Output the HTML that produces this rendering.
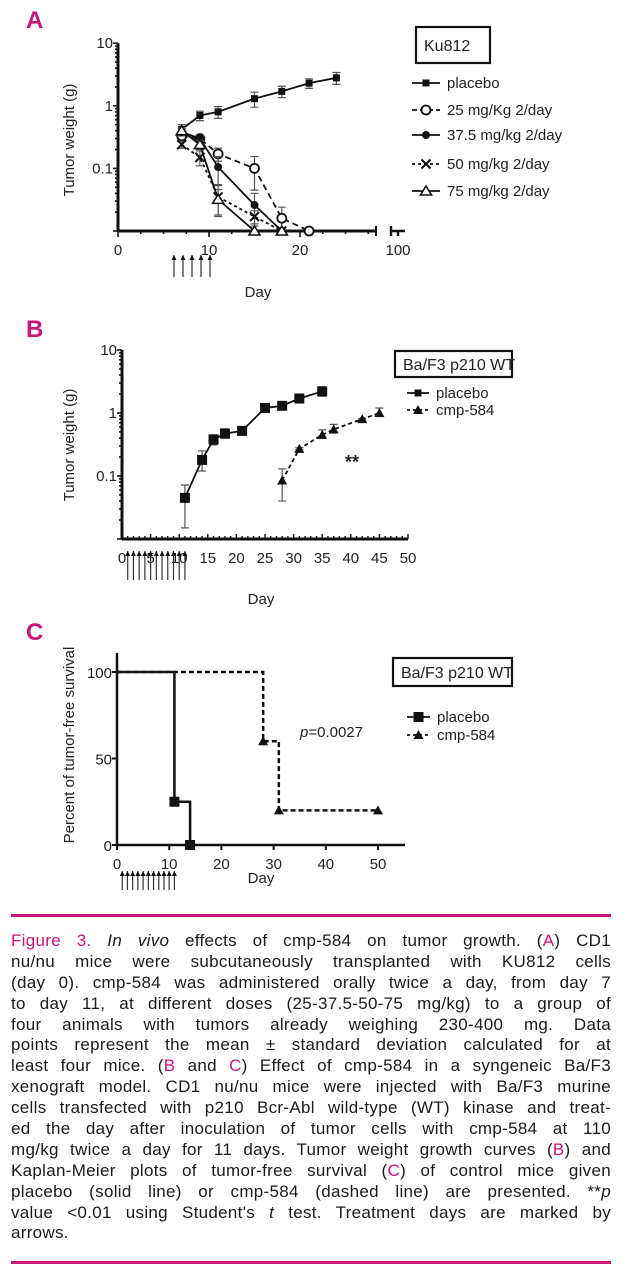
<!DOCTYPE html>
<html><head><meta charset="utf-8">
<style>
body{margin:0;background:#fff;width:632px;height:1280px;overflow:hidden;font-family:"Liberation Sans",sans-serif;}
#fig{position:absolute;left:0;top:0}
.cap{position:absolute;left:11px;width:600px;font-size:17px;letter-spacing:0.3px;color:#1a1a1a;}
.cap div{height:20.9px;line-height:20.9px;text-align:justify;text-align-last:justify;white-space:nowrap}
.cap div.last{text-align-last:left}
.pk{color:#c8157a}
</style></head><body>
<svg id="fig" width="632" height="900" xmlns="http://www.w3.org/2000/svg" font-family="Liberation Sans, sans-serif">
<g id="A"></g>
<g id="B"></g>
<g id="C"></g>
</svg>
<div style="position:absolute;left:11px;top:914px;width:600px;height:3px;background:#c8157a"></div>
<div class="cap" style="top:931px">
<div><span class="pk">Figure 3.</span> <i>In vivo</i> effects of cmp-584 on tumor growth. (<span class="pk">A</span>) CD1</div>
<div>nu/nu mice were subcutaneously transplanted with KU812 cells</div>
<div>(day 0). cmp-584 was administered orally twice a day, from day 7</div>
<div>to day 11, at different doses (25-37.5-50-75 mg/kg) to a group of</div>
<div>four animals with tumors already weighing 230-400 mg. Data</div>
<div>points represent the mean ± standard deviation calculated for at</div>
<div>least four mice. (<span class="pk">B</span> and <span class="pk">C</span>) Effect of cmp-584 in a syngeneic Ba/F3</div>
<div>xenograft model. CD1 nu/nu mice were injected with Ba/F3 murine</div>
<div>cells transfected with p210 Bcr-Abl wild-type (WT) kinase and treat-</div>
<div>ed the day after inoculation of tumor cells with cmp-584 at 110</div>
<div>mg/kg twice a day for 11 days. Tumor weight growth curves (<span class="pk">B</span>) and</div>
<div>Kaplan-Meier plots of tumor-free survival (<span class="pk">C</span>) of control mice given</div>
<div>placebo (solid line) or cmp-584 (dashed line) are presented. **<i>p</i></div>
<div>value &lt;0.01 using Student's <i>t</i> test. Treatment days are marked by</div>
<div class="last">arrows.</div>
</div>
<div style="position:absolute;left:11px;top:1261px;width:600px;height:3px;background:#c8157a"></div>
<script>
// Panel A data
const aDays=[7,9,11,15,18,21,24];
const aPlacebo=[0.42,0.7,0.8,1.3,1.7,2.3,2.8];
const aPlaceboErr=[0.08,0.12,0.17,0.35,0.35,0.4,0.6];
const a25Days=[7,9,11,15,18,21];
const a25=[0.33,0.3,0.17,0.1,0.016,0.01];
const a25Err=[0.04,0.03,0.04,0.055,0.008,0];
const a37Days=[7,9,11,15,18];
const a37=[0.38,0.3,0.105,0.026,0.01];
const a37Err=[0.05,0.03,0.05,0.014,0];
const a50Days=[7,9,11,15,18];
const a50=[0.24,0.15,0.035,0.017,0.01];
const a50Err=[0.03,0.04,0.018,0.004,0];
const a75Days=[7,9,11,15,18];
const a75=[0.4,0.24,0.032,0.01,0.01];
const a75Err=[0.05,0.04,0.014,0,0];
const aArrowDays=[7,8,9,10,11];
// Panel B data
const bPlaceboDays=[11,14,16,18,21,25,28,31,35];
const bPlacebo=[0.045,0.18,0.38,0.47,0.52,1.2,1.3,1.7,2.2];
const bPlaceboLo=[0.015,0.12,0.31,0.4,0.48,1.12,1.22,1.45,1.85];
const bPlaceboHi=[0.072,0.25,0.45,0.56,0.57,1.3,1.4,1.95,2.6];
const bCmpDays=[28,31,35,37,42,45];
const bCmp=[0.085,0.27,0.45,0.55,0.8,1.0];
const bCmpLo=[0.04,0.26,0.4,0.48,0.78,0.88];
const bCmpHi=[0.13,0.28,0.54,0.66,0.82,1.2];
const bArrowDays=[1,2,3,4,5,6,7,8,9,10,11];
const bXTicks=[0,5,10,15,20,25,30,35,40,45,50];
// Panel C data
const cPlaceboDays=[0,11,14];
const cPlacebo=[100,25,0];
const cCmpDays=[0,28,31,50];
const cCmp=[100,60,20,20];
const cXTicks=[0,10,20,30,40,50];
const cYTicks=[0,50,100];
const cArrowDays=[1,2,3,4,5,6,7,8,9,10,11];

const NS="http://www.w3.org/2000/svg";
function mk(p,tag,at){const e=document.createElementNS(NS,tag);for(const k in at)e.setAttribute(k,at[k]);p.appendChild(e);return e;}
function txt(p,x,y,s,at){const e=mk(p,'text',Object.assign({x:x,y:y,'font-size':14,fill:'#222'},at||{}));e.textContent=s;return e;}
function marker(g,type,x,y){
 if(type==='sq'){mk(g,'rect',{x:x-3.5,y:y-3.5,width:7,height:7,fill:'#111'});}
 else if(type==='bsq'){mk(g,'rect',{x:x-5,y:y-5,width:10,height:10,fill:'#111'});}
 else if(type==='oc'){mk(g,'circle',{cx:x,cy:y,r:4.5,fill:'#fff',stroke:'#111','stroke-width':1.8});}
 else if(type==='fc'){mk(g,'circle',{cx:x,cy:y,r:4,fill:'#111'});}
 else if(type==='x'){mk(g,'path',{d:`M${x-4.5},${y-4.5}L${x+4.5},${y+4.5}M${x+4.5},${y-4.5}L${x-4.5},${y+4.5}`,stroke:'#111','stroke-width':2});}
 else if(type==='ot'){mk(g,'path',{d:`M${x},${y-5}L${x+5.5},${y+4}L${x-5.5},${y+4}Z`,fill:'#fff',stroke:'#111','stroke-width':1.6});}
 else if(type==='ft'){mk(g,'path',{d:`M${x},${y-5}L${x+5},${y+4}L${x-5},${y+4}Z`,fill:'#111'});}
}
function letter(g,x,y,s){const t=txt(g,x,y,s,{'font-size':24,'font-weight':'bold',fill:'#c8157a'});}
function arrows(g,days,xs,y0,y1){
 days.forEach(d=>{const x=xs(d);const a=mk(g,'path',{d:`M${x},${y1}L${x},${y0}`,stroke:'#333','stroke-width':1.2});
 
 mk(g,'path',{d:`M${x-2.5},${y0+5}L${x},${y0}L${x+2.5},${y0+5}Z`,fill:'#111'});});
}
function logYAxis(g,ys,x,lo,hi,labels){
 mk(g,'line',{x1:x,y1:ys(hi),x2:x,y2:ys(lo),stroke:'#111','stroke-width':3});
 for(let e=Math.log10(lo);e<Math.log10(hi);e++){for(let m=1;m<10;m++){const v=m*Math.pow(10,e);const y=ys(v);mk(g,'line',{x1:x-(m===1?5:3),y1:y,x2:x,y2:y,stroke:'#111','stroke-width':1.6});}}
 mk(g,'line',{x1:x-5,y1:ys(hi),x2:x,y2:ys(hi),stroke:'#111','stroke-width':1.6});
 labels.forEach(v=>{const t=txt(g,x-5,ys(v)+5,String(v),{'text-anchor':'end','font-size':15});});
}
function series(g,name,xsD,vals,xs,ys,dash,mtype,lo,hi){
 const s=mk(g,'g',{});
 if(lo){xsD.forEach((d,i)=>{if(hi[i]===lo[i])return;const x=xs(d);mk(s,'path',{d:`M${x},${ys(hi[i])}L${x},${ys(lo[i])}M${x-4},${ys(hi[i])}L${x+4},${ys(hi[i])}M${x-4},${ys(lo[i])}L${x+4},${ys(lo[i])}`,stroke:'#555','stroke-width':1.2,fill:'none'});});}
 mk(s,'polyline',{points:xsD.map((d,i)=>xs(d)+','+ys(vals[i])).join(' '),fill:'none',stroke:'#111','stroke-width':1.8,'stroke-dasharray':dash||'none'});
 xsD.forEach((d,i)=>marker(s,mtype,xs(d),ys(vals[i])));
}
function legend(g,x,y,label,dash,mtype,len){
 const e=mk(g,'g',{});
 mk(e,'line',{x1:x,y1:y,x2:x+len,y2:y,stroke:'#111','stroke-width':1.8,'stroke-dasharray':dash||'none'});
 marker(e,mtype,x+len/2,y);txt(e,x+len+7,y+5,label,{'font-size':15});
}
function box(g,x,y,w,h,s){const b=mk(g,'g',{});
 mk(b,'rect',{x:x,y:y,width:w,height:h,fill:'#fff',stroke:'#111','stroke-width':2.2});txt(b,x+8,y+h/2+6,s,{'font-size':16});}
function yTitle(g,x,cy,s){const t=txt(g,0,0,s,{'font-size':15,'text-anchor':'middle',transform:`translate(${x},${cy}) rotate(-90)`});}
function xTitle(g,x,y,s){const t=txt(g,x,y,s,{'font-size':15,'text-anchor':'middle'});}

// ---- Panel A
(function(){
 const g=document.getElementById('A');
 const x0=118,px=9.1,yb=231,dec=62.6;
 const xs=d=>d>=100?398:x0+d*px;
 const ys=v=>yb-(Math.log10(v)+2)*dec;
 letter(g,26,28,'A');
 logYAxis(g,ys,x0,0.01,10,[10,1,0.1]);
 const ax=mk(g,'g',{});
 mk(ax,'line',{x1:x0,y1:yb,x2:376,y2:yb,stroke:'#111','stroke-width':3});
 mk(ax,'line',{x1:376,y1:yb-5,x2:376,y2:yb+5,stroke:'#111','stroke-width':2});
 mk(ax,'path',{d:`M390,${yb}L405,${yb}M391,${yb-5}L391,${yb+5}M398,${yb}L398,${yb+5}`,stroke:'#111','stroke-width':2.4});
 for(let d=0;d<=28;d+=2.5){mk(ax,'line',{x1:xs(d),y1:yb,x2:xs(d),y2:yb+(d%10===0?6:3),stroke:'#111','stroke-width':1.6});}
 [0,10,20,100].forEach(d=>{const t=txt(ax,xs(d),yb+24,String(d),{'text-anchor':'middle','font-size':15});});
 const lo=(v,e)=>v.map((x,i)=>Math.max(0.0101,x-e[i])), hi=(v,e)=>v.map((x,i)=>x+e[i]);
 series(g,'series-placebo',aDays,aPlacebo,xs,ys,null,'sq',lo(aPlacebo,aPlaceboErr),hi(aPlacebo,aPlaceboErr));
 series(g,'series-25mg',a25Days,a25,xs,ys,'6,4','oc',lo(a25,a25Err),hi(a25,a25Err));
 series(g,'series-37-5mg',a37Days,a37,xs,ys,null,'fc',lo(a37,a37Err),hi(a37,a37Err));
 series(g,'series-50mg',a50Days,a50,xs,ys,'3,3','x',lo(a50,a50Err),hi(a50,a50Err));
 series(g,'series-75mg',a75Days,a75,xs,ys,null,'ot',lo(a75,a75Err),hi(a75,a75Err));
 arrows(g,aArrowDays,d=>174+(d-7)*9,255,277);
 yTitle(g,74,140,'Tumor weight (g)');
 xTitle(g,258,297,'Day');
 box(g,416,27,74,36,'Ku812');
 legend(g,412,83,'placebo',null,'sq',28);
 legend(g,412,110,'25 mg/Kg 2/day','5,3','oc',28);
 legend(g,412,135,'37.5 mg/kg 2/day',null,'fc',28);
 legend(g,412,164,'50 mg/kg 2/day','3,3','x',28);
 legend(g,412,191,'75 mg/kg 2/day',null,'ot',28);
})();

// ---- Panel B
(function(){
 const g=document.getElementById('B');
 const x0=122,px=5.72,yb=539,dec=63;
 const xs=d=>x0+d*px;
 const ys=v=>yb-(Math.log10(v)+2)*dec;
 letter(g,26,337,'B');
 logYAxis(g,ys,x0,0.01,10,[10,1,0.1]);
 const ax=mk(g,'g',{});
 mk(ax,'line',{x1:x0,y1:yb,x2:xs(50),y2:yb,stroke:'#111','stroke-width':3});
 for(let d=0;d<=50;d++){mk(ax,'line',{x1:xs(d),y1:yb-(d%5===0?5:3),x2:xs(d),y2:yb,stroke:'#111','stroke-width':1.4});}
 bXTicks.forEach(d=>{const t=txt(ax,xs(d),yb+24,String(d),{'text-anchor':'middle','font-size':15});});
 series(g,'series-placebo',bPlaceboDays,bPlacebo,xs,ys,null,'bsq',bPlaceboLo,bPlaceboHi);
 series(g,'series-cmp-584',bCmpDays,bCmp,xs,ys,'4,3','ft',bCmpLo,bCmpHi);
 arrows(g,bArrowDays,xs,551,580);
 const st=txt(g,345,468,'**',{'font-size':18,'font-weight':'bold'});
 yTitle(g,74,445,'Tumor weight (g)');
 xTitle(g,261,604,'Day');
 box(g,395,351,117,26,'Ba/F3 p210 WT');
 legend(g,407,393,'placebo',null,'sq',22);
 legend(g,407,410,'cmp-584','3,3','ft',22);
})();

// ---- Panel C
(function(){
 const g=document.getElementById('C');
 const x0=117,px=5.22,y0=845,py=1.73;
 const xs=d=>x0+d*px;
 const ys=v=>y0-v*py;
 letter(g,26,640,'C');
 const ay=mk(g,'g',{});
 mk(ay,'line',{x1:x0,y1:653,x2:x0,y2:y0,stroke:'#111','stroke-width':2.5});
 cYTicks.forEach(v=>{mk(ay,'line',{x1:x0-5,y1:ys(v),x2:x0,y2:ys(v),stroke:'#111','stroke-width':2});
  const t=txt(ay,x0-5,ys(v)+6,String(v),{'text-anchor':'end','font-size':15});});
 const ax=mk(g,'g',{});
 mk(ax,'line',{x1:x0,y1:y0,x2:405,y2:y0,stroke:'#111','stroke-width':2.5});
 cXTicks.forEach(d=>{mk(ax,'line',{x1:xs(d),y1:y0,x2:xs(d),y2:y0+5,stroke:'#111','stroke-width':2});
  const t=txt(ax,xs(d),y0+24,String(d),{'text-anchor':'middle','font-size':15});});
 function km(name,days,vals,dash,mt){
  const s=mk(g,'g',{});
  let pts=[];for(let i=0;i<days.length;i++){if(i>0)pts.push([days[i],vals[i-1]]);pts.push([days[i],vals[i]]);}
  mk(s,'polyline',{points:pts.map(p=>xs(p[0])+','+ys(p[1])).join(' '),fill:'none',stroke:'#111','stroke-width':2.5,'stroke-dasharray':dash||'none'});
  for(let i=1;i<days.length;i++)marker(s,mt,xs(days[i]),ys(vals[i]));
 }
 km('series-placebo',cPlaceboDays,cPlacebo,null,'bsq');
 km('series-cmp-584',cCmpDays,cCmp,'5,3','ft');
 arrows(g,cArrowDays,xs,871,890);
 const p=txt(g,300,737,'',{'font-size':15});
 p.innerHTML='<tspan font-style="italic">p</tspan>=0.0027';
 yTitle(g,74,745,'Percent of tumor-free survival');
 xTitle(g,261,883,'Day');
 box(g,393,658,119,28,'Ba/F3 p210 WT');
 legend(g,407,717,'placebo',null,'bsq',23);
 legend(g,407,735,'cmp-584','3,3','ft',23);
})();
</script>
</body></html>
